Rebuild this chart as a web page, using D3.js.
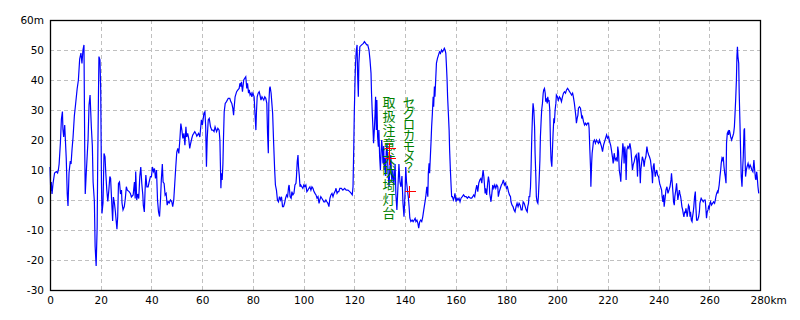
<!DOCTYPE html>
<html>
<head>
<meta charset="utf-8">
<script src="https://cdn.jsdelivr.net/npm/d3@7"></script>
<style>
  body { margin: 0; background: #fff; }
  svg { display: block; }
</style>
</head>
<body>
<div id="chart"></div>
<script>
// elevation profile along the route: [distance km, elevation m]
var profile = [
  [0,11],[0.3,3],[0.5,6],[0.8,2],[1.2,5.5],[1.8,9],[2.5,9.5],[3.0,9],[3.3,10],[3.6,12],
  [4.1,19],[4.5,27],[4.9,29.5],[5.1,23.5],[5.4,21],[5.8,25],[6.4,14],[6.8,2],[7.1,-2],[7.5,9],
  [8.0,13],[8.3,12],[8.7,17],[9.1,21],[9.6,28],[10.1,32],[10.7,37],[11.2,40],[11.7,47],[12.2,49],
  [12.6,45.5],[13.0,50],[13.4,51.7],[13.7,16.7],[13.9,2],[14.3,9],[15.0,20],[15.4,31.7],[15.8,35],[16.3,24.4],
  [16.7,18],[17.0,6],[17.5,-0.5],[17.8,-15.5],[18.2,-22],[18.6,-9],[18.8,11],[19.1,34],[19.3,47.8],[19.7,46.7],
  [20.0,36.7],[20.3,5.5],[20.5,-4.5],[20.9,-1],[21.3,15.5],[21.7,14.4],[22.0,9],[22.4,3.3],[22.8,-0.5],[23.2,3.3],
  [23.6,7.8],[23.9,7.2],[24.3,0],[24.7,-7],[25.0,1],[25.4,-1],[25.8,-4],[26.1,-7],[26.4,-9.7],[26.7,-5.5],
  [27.0,5.5],[27.4,6],[27.8,2],[28.2,3.3],[28.4,-1],[28.8,-3.3],[29.3,-2.2],[29.7,0.5],[30.1,4.4],[30.5,3.3],
  [31.2,2.8],[31.7,2.2],[32.1,1],[32.8,1.7],[33.3,6],[33.6,0.5],[33.8,9.5],[34.2,0],[34.6,2],[35.0,0.5],
  [35.4,7.8],[35.8,11],[36.2,5.5],[36.6,1.7],[36.8,-1.7],[37.2,-4],[37.5,3.3],[37.8,8.3],[38.2,4.4],[38.7,4.4],
  [39.1,6],[39.6,7.8],[40.0,7.8],[40.4,11],[40.8,9.5],[41.2,10.5],[41.6,7.2],[42.0,10],[42.4,0],[42.8,-4],
  [43.2,-5.5],[43.6,0.5],[43.9,6.7],[44.3,12],[44.6,6],[45.0,5.5],[45.4,1.7],[45.8,2.2],[46.2,-1.7],[46.6,-0.5],
  [47.0,-1],[47.5,0],[48.0,-0.5],[48.4,-2.2],[48.8,0],[49.2,5.5],[49.6,11],[50.0,16],[50.4,17.2],[50.8,15.5],
  [51.2,20],[51.6,25.5],[52.0,23.3],[52.4,20.5],[52.8,22.2],[53.2,18.3],[53.6,24.4],[53.9,21],[54.3,22.2],[54.7,20.5],
  [55.1,17.2],[55.5,19],[55.9,20.5],[56.3,21.7],[56.7,22.2],[57.1,22.8],[57.5,22.2],[57.9,21.3],[58.6,22.2],[59.1,21],
  [59.7,26.7],[60.1,25],[60.7,28.9],[61.1,29.4],[61.4,24.4],[61.7,11.1],[62.0,20.6],[62.4,26.7],[62.8,27.2],[63.3,24.4],
  [63.8,23.3],[64.3,23.3],[64.7,22.8],[65.1,24.4],[65.7,22.8],[66.2,23.9],[66.7,23.3],[67.0,20],[67.4,3.9],[67.6,8.9],
  [67.9,6.7],[68.2,12.2],[68.4,20],[68.7,29.4],[69.1,32.2],[69.6,32.8],[70.3,33.9],[70.9,33.9],[71.3,32.8],[71.7,32.2],
  [72.1,30.6],[72.4,28.3],[72.6,30.6],[73.0,34.4],[73.6,36.1],[74.1,36.7],[74.6,37.2],[74.9,38.9],[75.3,37.8],[75.5,39.4],
  [75.9,36.1],[76.4,40],[76.8,40.6],[77.2,41.1],[77.6,37.2],[77.9,38.9],[78.3,35.6],[78.6,36.7],[78.9,35],[79.3,35.6],
  [79.6,34.4],[80.0,35.6],[80.5,34.4],[80.9,27.8],[81.2,23.3],[81.4,28.9],[81.7,34.4],[82.1,35.6],[82.5,36.1],[82.8,35],
  [83.2,33.3],[83.6,34.4],[83.9,33.9],[84.3,33.3],[84.7,34.4],[85.1,33.9],[85.5,32.2],[85.8,22.2],[86.1,15.6],[86.3,32.2],
  [86.6,37.2],[86.8,37.8],[87.2,35.6],[87.5,32.2],[87.8,28.9],[88.2,18.9],[88.6,10],[88.9,5],[89.3,3.3],[89.7,0],
  [90.1,-0.6],[90.5,1.1],[90.9,0],[91.3,1.1],[91.7,-2.2],[92.1,-2.2],[92.5,-1.1],[92.9,0.6],[93.3,1.7],[93.7,1.1],
  [94.1,4.4],[94.3,5],[94.7,1.1],[95.1,0.6],[95.4,2.8],[95.8,1.7],[96.2,2.2],[96.6,5],[97.0,5.6],[97.2,7.8],
  [97.5,12.8],[97.8,15],[98.0,11.1],[98.3,8.3],[98.6,4.4],[98.9,5],[99.3,4.4],[99.7,3.9],[100.1,5],[100.5,4.4],
  [100.9,5],[101.3,2.8],[101.7,3.3],[102.1,3.9],[102.5,4.4],[102.9,3.3],[103.3,4.4],[103.7,3.9],[104.1,2.8],[104.5,2.2],
  [104.9,1.7],[105.3,0.6],[105.7,1.1],[106.1,-1.1],[106.4,0],[106.8,1.1],[107.2,0.6],[107.6,0],[108.0,-0.6],[108.4,-0.6],
  [108.8,0],[109.2,-0.6],[109.6,-1.1],[110.0,-2.2],[110.4,0.6],[110.8,1.7],[111.2,2.2],[111.6,1.1],[112.0,2.2],[112.4,2.8],
  [112.8,3.9],[113.2,2.2],[113.6,2.8],[113.9,2.8],[114.3,3.9],[114.9,3.9],[115.5,3.3],[116.2,3.9],[116.8,3.3],[117.5,3.3],
  [118.2,2.8],[118.8,2.2],[119.2,1.7],[119.5,4.4],[119.8,17.8],[120.0,28.9],[120.3,40],[120.5,45.6],[120.8,50],[121.1,51.7],
  [121.3,42.2],[121.6,34.4],[121.8,45.6],[122.2,51.1],[122.9,51.7],[123.6,52.2],[124.0,52.8],[124.5,52.2],[124.9,51.7],[125.3,51.7],
  [125.8,50],[126.2,46.7],[126.6,42.2],[126.8,35.6],[127.1,28.9],[127.4,23.3],[127.6,18.9],[127.9,23.3],[128.2,28.9],[128.4,34.4],
  [128.7,23.3],[128.9,33.3],[129.2,21.1],[129.5,17.8],[129.7,23.3],[130.0,14.4],[130.3,10],[130.5,14.4],[130.8,20],[131.1,16.7],
  [131.3,12.2],[131.6,18],[131.8,10],[132.1,14],[132.4,8],[132.6,16],[132.9,19],[133.2,12],[133.4,8],[133.7,4.4],
  [134.0,10],[134.4,15],[134.8,6],[135.2,10],[135.6,5],[136.1,12],[136.4,2],[136.8,-3.3],[137.2,4],[137.6,12],
  [138.0,6],[138.4,4.4],[138.8,8],[139.2,-1],[139.6,-5.6],[140.0,2],[140.3,11],[140.6,6],[141.0,3],[141.3,1.1],
  [141.6,-2],[141.9,-6],[142.3,-7.2],[142.8,-6.7],[143.2,-7.2],[143.6,-6.7],
  [144.0,-6.1],[144.3,-7.2],[144.7,-6.7],[145.1,-7.8],[145.4,-9.4],[145.8,-7.2],[146.2,-6.7],[146.6,-7.2],[147.0,-5.6],[147.4,-3.3],
  [147.8,-1.1],[148.2,1.1],[148.6,4.4],[149.0,1.1],[149.2,8.9],[149.5,12.2],[149.7,8.9],[150.0,14.4],[150.3,20],[150.5,24.4],
  [150.8,28.9],[151.1,34.4],[151.3,31.1],[151.6,37.8],[151.8,34.4],[152.1,40],[152.4,45.6],[152.8,47.2],[153.2,48.3],[153.6,49.4],
  [154.0,48.9],[154.4,50],[154.8,49.4],[155.2,50],[155.5,50.6],[155.8,50],[156.1,48.9],[156.3,45.6],[156.6,40],[156.8,34.4],
  [157.1,28.9],[157.4,23.3],[157.6,16.7],[157.9,10],[158.2,4.4],[158.4,1.1],[158.7,1.1],[159.1,0],[159.5,1.1],[159.7,2.2],
  [160.1,-0.6],[160.5,0.6],[160.9,0],[161.3,0.6],[161.7,-0.6],[162.1,0.6],[162.6,1.1],[163.1,1.7],[163.6,1.1],[164.1,1.1],
  [164.6,0.6],[165.1,1.1],[165.8,0.6],[166.3,0.6],[166.7,1.1],[167.1,1.7],[167.5,1.1],[167.9,3.3],[168.3,5],[168.7,2.8],
  [169.1,5.6],[169.5,6.7],[169.9,7.2],[170.3,5.6],[170.5,7.8],[170.8,10],[171.1,7.8],[171.3,5.6],[171.6,2.2],[171.8,3.9],
  [172.2,1.7],[172.6,5.6],[172.9,7.8],[173.2,6.1],[173.4,2.2],[173.7,0.6],[173.9,-0.6],[174.2,1.7],[174.6,5],[175.0,3.9],
  [175.4,5],[175.8,3.9],[176.2,5],[176.6,4.4],[176.8,1.1],[177.2,2.8],[177.6,3.9],[178.0,5],[178.4,5.6],[178.8,6.7],
  [179.2,5],[179.6,5.6],[180.0,3.9],[180.4,4.4],[180.8,2.8],[181.2,1.7],[181.6,1.1],[181.8,-0.6],[182.2,-1.7],[182.6,-2.2],
  [183.0,-3.3],[183.4,-3.9],[183.8,-2.2],[184.2,-1.1],[184.6,-2.2],[185.0,-1.1],[185.4,-1.7],[185.8,-3.3],[186.2,-3.3],[186.6,-0.6],
  [187.0,-1.1],[187.4,-2.2],[187.8,-3.3],[188.2,-3.9],[188.4,-2.2],[188.7,-1.1],[188.9,1.1],[189.2,1.1],[189.5,4.4],[189.7,10],
  [190.0,21.1],[190.3,28.9],[190.5,32.2],[190.8,30],[191.1,24.4],[191.3,15.6],[191.6,7.8],[191.8,1.1],[192.1,-0.6],[192.4,-1.1],
  [192.6,1.1],[192.9,6.7],[193.2,13.3],[193.4,21.1],[193.7,26.7],[193.9,30],[194.2,32.2],[194.5,35.6],[194.7,36.7],[195.0,37.2],
  [195.3,35.6],[195.5,32.8],[195.8,33.9],[196.1,32.2],[196.3,34.4],[196.6,32.8],[196.8,33.3],[197.1,30],[197.4,17.8],[197.6,13.3],
  [197.9,11.1],[198.2,17.8],[198.4,22.2],[198.7,27.2],[198.9,25.6],[199.2,30],[199.5,32.2],[199.7,35],[200.1,34.4],[200.5,33.3],
  [200.9,34.4],[201.3,33.9],[201.7,32.8],[202.1,34.4],[202.5,35.6],[202.9,36.1],[203.3,35.6],[203.7,36.7],[204.1,37.2],[204.5,36.7],
  [204.9,36.1],[205.3,35.6],[205.7,35],[206.1,35.6],[206.4,34.4],[206.8,32.2],[207.1,30],[207.4,27.8],[207.6,25.6],[207.9,27.2],
  [208.2,28.3],[208.4,30.6],[208.8,31.1],[209.2,30.6],[209.5,28.9],[209.7,27.2],[210.0,27.8],[210.4,26.1],[210.8,25],[211.2,25.6],
  [211.6,25],[212.0,25.6],[212.4,25.6],[212.6,23.9],[212.9,16.7],[213.2,10],[213.3,4.4],[213.6,12.2],[213.8,15.6],[214.1,17.8],
  [214.3,19.4],[214.7,20],[215.1,18.9],[215.5,20],[215.9,19.4],[216.3,18.9],[216.7,20],[217.1,18.9],[217.5,17.8],[217.9,16.1],
  [218.3,18.3],[218.7,19.4],[219.1,20.6],[219.5,21.7],[219.9,20.6],[220.3,21.1],[220.7,19.4],[221.1,18.3],[221.4,16.7],[221.8,14.4],
  [222.1,12.2],[222.5,15.6],[222.9,13.3],[223.3,13.9],[223.7,12.8],[223.9,17.8],[224.2,16.1],[224.5,10],[224.7,8.9],[224.9,7.8],
  [225.1,6.1],[225.4,12.2],[225.7,15.6],[225.9,18.9],[226.2,16.7],[226.4,12.2],[226.7,17.8],[227.0,14.4],[227.2,6.7],[227.5,16.7],
  [227.9,17.8],[228.3,17.2],[228.7,18.9],[229.1,16.7],[229.5,12.2],[229.7,10],[230.0,11.7],[230.4,12.8],[230.8,14.4],[231.2,15],
  [231.4,13.3],[231.7,7.8],[232.0,15.6],[232.2,15.6],[232.5,12.2],[232.8,5.6],[233.0,10],[233.3,12.2],[233.6,14.4],[233.8,13.9],
  [234.1,12.8],[234.3,11.1],[234.6,13.3],[235.0,14.4],[235.4,17.8],[235.7,16.1],[236.1,15],[236.4,14.4],[236.8,13.3],[237.1,11.1],
  [237.4,8.9],[237.6,5.6],[237.9,11.1],[238.2,12.2],[238.4,10],[238.7,7.8],[238.9,8.9],[239.3,10],[239.6,8.3],[240.0,7.8],
  [240.4,5.6],[240.8,4.4],[241.2,3.3],[241.4,1.1],[241.7,-0.6],[242.0,1.7],[242.2,-2.2],[242.5,0],[242.9,3.3],[243.3,4.4],
  [243.7,2.2],[244.1,3.3],[244.5,4.4],[244.9,6.7],[245.1,8.9],[245.4,5.6],[245.7,2.2],[245.9,-0.6],[246.2,-1.7],[246.4,1.1],
  [246.8,3.3],[247.1,5.6],[247.4,2.2],[247.6,0],[247.9,1.7],[248.2,3.3],[248.4,2.2],[248.7,1.1],[248.9,0],[249.2,-2.2],
  [249.5,-3.3],[249.7,-4.4],[250.0,-5.6],[250.3,-3.9],[250.5,-4.4],[250.8,-2.8],[251.1,-4.4],[251.3,-5.6],[251.6,-3.3],[251.8,-1.7],
  [252.1,-2.2],[252.4,-5.6],[252.6,-3.9],[252.9,-6.7],[253.2,-7.2],[253.4,-5.6],[253.7,-3.9],[253.9,-2.2],[254.2,1.1],[254.5,2.8],
  [254.7,-2.2],[255.0,-6.7],[255.4,-6.7],[255.8,-5.6],[256.1,-3.9],[256.3,-1.1],[256.6,0],[256.8,0.6],[257.2,0],[257.6,-0.6],
  [258.0,0],[258.4,0],[258.7,-3.3],[258.9,-6.1],[259.2,-3.9],[259.5,-3.3],[259.7,-2.2],[260.0,-2.8],[260.3,-1.1],[260.5,-0.6],
  [260.9,-1.7],[261.3,-1.1],[261.7,-0.6],[262.1,-1.1],[262.4,0],[262.6,1.1],[262.9,2.2],[263.2,2.8],[263.4,2.2],[263.7,3.9],
  [263.9,5],[264.2,7.8],[264.5,10],[264.7,12.2],[265.0,13.9],[265.3,13.3],[265.5,14.4],[265.8,11.1],[266.1,8.9],[266.3,7.8],
  [266.6,5.6],[266.8,18.9],[267.1,22.2],[267.4,22.8],[267.6,21.7],[267.9,23.3],[268.2,22.2],[268.4,21.1],[268.8,20],[269.2,21.1],
  [269.6,22.2],[269.9,24.4],[270.1,27.8],[270.4,33.3],[270.7,40],[270.9,47.8],[271.1,51.1],[271.3,47.8],[271.6,45.6],[271.8,35.6],
  [272.1,25.6],[272.4,14.4],[272.6,7.8],[272.9,4.4],[273.2,11.1],[273.4,14.4],[273.7,23.3],[273.9,23.9],[274.1,14.4],[274.3,7.8],
  [274.6,10],[274.9,11.1],[275.3,12.2],[275.7,10.6],[276.1,11.7],[276.4,11.1],[276.8,10],[277.2,9.4],[277.6,13.3],[277.9,10],
  [278.2,7.2],[278.4,6.7],[278.7,9.4],[278.9,7.8],[279.2,4.4],[279.5,2.2]
];

// waypoints (red crosses) and their notes
var markerKm = [133.5, 133.5, 141.6];
var markerM = [17.2, 14.1, 3.0];
var noteKm = [133.5, 141.6];
var noteText = ["取扱注意犬吠埼灯台", "セグロカモメ？"];

var xTicks = [0, 20, 40, 60, 80, 100, 120, 140, 160, 180, 200, 220, 240, 260, 280];
var yTicks = [-30, -20, -10, 0, 10, 20, 30, 40, 50, 60];

var width = 800, height = 320;
var plotL = 50, plotT = 20, plotR = 760, plotB = 290;

var x = d3.scaleLinear().domain([0, 280]).range([plotL, plotR]);
var y = d3.scaleLinear().domain([-30, 60]).range([plotB, plotT]);

var svg = d3.select("#chart").append("svg")
    .attr("width", width)
    .attr("height", height)
    .style("background", "#fff")

// grid
svg.append("g")
    .selectAll("line")
    .data(xTicks.slice(1, -1))
    .enter()
    .append("line")
    .attr("x1", function(d) { return Math.round(x(d)) + 0.5 })
    .attr("x2", function(d) { return Math.round(x(d)) + 0.5 })
    .attr("y1", plotT)
    .attr("y2", plotB)
    .attr("stroke", "#c0c0c0")
    .attr("stroke-dasharray", "4,3")
svg.append("g")
    .selectAll("line")
    .data(yTicks.slice(1, -1))
    .enter()
    .append("line")
    .attr("x1", plotL)
    .attr("x2", plotR)
    .attr("y1", function(d) { return Math.round(y(d)) + 0.5 })
    .attr("y2", function(d) { return Math.round(y(d)) + 0.5 })
    .attr("stroke", "#c0c0c0")
    .attr("stroke-dasharray", "4,3")

// profile line
var line = d3.line()
    .x(function(d) { return x(d[0]) })
    .y(function(d) { return y(d[1]) })
svg.append("path")
    .datum(profile)
    .attr("d", line)
    .attr("fill", "none")
    .attr("stroke", "#0000ff")
    .attr("stroke-width", 1.2)

// notes, written vertically
svg.append("g")
    .selectAll("text")
    .data(noteText)
    .enter()
    .append("text")
    .attr("x", function(d, i) { return Math.round(x(noteKm[i])) })
    .attr("y", y(34.7))
    .style("writing-mode", "vertical-rl")
    .style("text-orientation", "upright")
    .attr("font-family", "'Noto Sans CJK JP', sans-serif")
    .attr("font-size", 13)
    .attr("letter-spacing", function(d, i) { return i == 1 ? -2.2 : 0.8 })
    .attr("fill", "#008000")
    .text(function(d) { return d })

// crosses
var cross = svg.append("g")
    .attr("stroke", "#ff0000")
    .attr("stroke-width", 1)
    .attr("shape-rendering", "crispEdges")
markerKm.forEach(function(k, i) {
    var cx = Math.round(x(k)) + 0.5, cy = Math.round(y(markerM[i])) + 0.5;
    cross.append("line").attr("x1", cx - 5).attr("x2", cx + 6).attr("y1", cy).attr("y2", cy)
    cross.append("line").attr("x1", cx).attr("x2", cx).attr("y1", cy - 6).attr("y2", cy + 6)
})

// frame
svg.append("rect")
    .attr("x", plotL + 0.5)
    .attr("y", plotT + 0.5)
    .attr("width", plotR - plotL)
    .attr("height", plotB - plotT)
    .attr("fill", "none")
    .attr("stroke", "#000")
    .attr("stroke-width", 1.3)

// axes
var xAxis = svg.append("g")
    .attr("transform", "translate(0," + plotB + ")")
    .call(d3.axisBottom(x).tickValues(xTicks).tickSize(0).tickPadding(7)
        .tickFormat(function(d) { return String(d) }))
var yAxis = svg.append("g")
    .attr("transform", "translate(" + plotL + ",0)")
    .call(d3.axisLeft(y).tickValues(yTicks).tickSize(0).tickPadding(6)
        .tickFormat(function(d) { return d == 60 ? "60m" : String(d) }))
xAxis.select(".domain").remove()
yAxis.select(".domain").remove()
svg.selectAll(".tick text")
    .attr("font-family", "'DejaVu Sans', sans-serif")
    .attr("font-size", 10.5)
    .attr("fill", "#000")

// "km" unit hangs after the last distance label
var last = xAxis.selectAll(".tick text").filter(function(d) { return d == 280 })
var w = last.node().getComputedTextLength()
last.text("280km").attr("text-anchor", "start").attr("x", -w / 2)
</script>
</body>
</html>
